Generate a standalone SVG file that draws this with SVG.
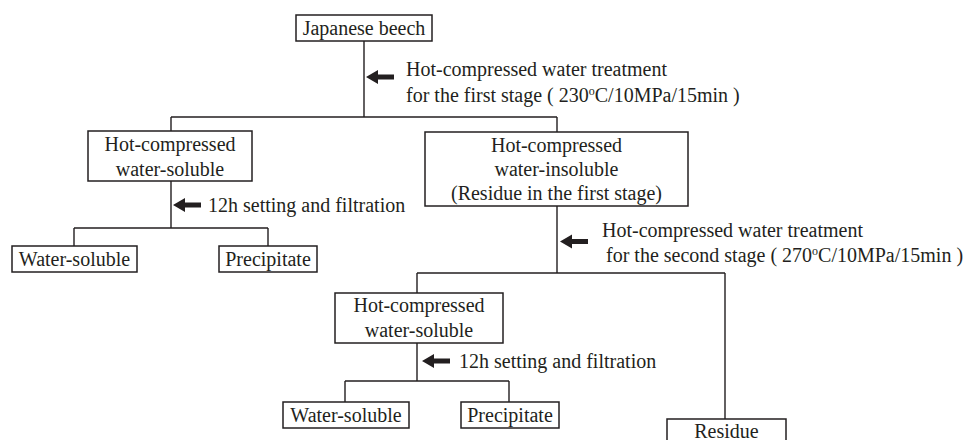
<svg xmlns="http://www.w3.org/2000/svg" xmlns:xlink="http://www.w3.org/1999/xlink" width="974" height="440" viewBox="0 0 974 440">
<style>
  .box { fill: #fff; stroke: #231f20; stroke-width: 1.5; }
  .ln { fill: none; stroke: #231f20; stroke-width: 1.4; }
  .t { font-family: "Liberation Serif", "Times New Roman", serif; font-size: 20px; fill: #231f20; }
  .c { text-anchor: middle; }
  .sup { font-size: 12px; }
</style>
<defs>
  <path id="arr" d="M0,0 L12,-7 L12,-2.6 L28,-2.6 L28,2.6 L12,2.6 L12,7 Z" fill="#231f20"/>
</defs>
<rect width="974" height="440" fill="#fff"/>
<g id="connectors">
  <path class="ln" d="M364,41 V117 M171,117 H557 M171,117 V131 M557,117 V132"/>
  <path class="ln" d="M171,181 V228 M74,228 H268 M74,228 V246 M268,228 V246"/>
  <path class="ln" d="M557,206 V273 M417,273 H725 M417,273 V293 M725,273 V419"/>
  <path class="ln" d="M417,343 V381 M345,381 H509 M345,381 V402 M509,381 V402"/>
  <use xlink:href="#arr" transform="translate(366,77)"/>
  <use xlink:href="#arr" transform="translate(173,205)"/>
  <use xlink:href="#arr" transform="translate(560,241.5)"/>
  <use xlink:href="#arr" transform="translate(422,361)"/>
</g>
<g id="labels">
  <text class="t" x="406" y="76">Hot-compressed water treatment</text>
  <text class="t" x="406" y="102">for the first stage ( 230<tspan class="sup" dy="-7">o</tspan><tspan dy="7">C/10MPa/15min )</tspan></text>
  <text class="t" x="208" y="212">12h setting and filtration</text>
  <text class="t" x="602" y="237">Hot-compressed water treatment</text>
  <text class="t" x="606" y="262">for the second stage ( 270<tspan class="sup" dy="-7">o</tspan><tspan dy="7">C/10MPa/15min )</tspan></text>
  <text class="t" x="459" y="368">12h setting and filtration</text>
</g>
<g id="japanese-beech">
  <rect class="box" x="296" y="15" width="136" height="26"/>
  <text class="t c" x="364" y="35">Japanese beech</text>
</g>
<g id="hc-soluble-1">
  <rect class="box" x="88" y="131" width="164" height="50"/>
  <text class="t c" x="170" y="151">Hot-compressed</text>
  <text class="t c" x="170" y="176">water-soluble</text>
</g>
<g id="hc-insoluble">
  <rect class="box" x="425" y="132" width="263" height="74"/>
  <text class="t c" x="556.5" y="152">Hot-compressed</text>
  <text class="t c" x="556.5" y="176">water-insoluble</text>
  <text class="t c" x="556.5" y="200">(Residue in the first stage)</text>
</g>
<g id="water-soluble-1">
  <rect class="box" x="12" y="246" width="125" height="26"/>
  <text class="t c" x="74.5" y="266">Water-soluble</text>
</g>
<g id="precipitate-1">
  <rect class="box" x="219" y="246" width="98" height="26"/>
  <text class="t c" x="268" y="266">Precipitate</text>
</g>
<g id="hc-soluble-2">
  <rect class="box" x="335" y="293" width="168" height="50"/>
  <text class="t c" x="419" y="312">Hot-compressed</text>
  <text class="t c" x="419" y="337">water-soluble</text>
</g>
<g id="water-soluble-2">
  <rect class="box" x="283" y="402" width="126" height="26"/>
  <text class="t c" x="346" y="422">Water-soluble</text>
</g>
<g id="precipitate-2">
  <rect class="box" x="461" y="402" width="98" height="26"/>
  <text class="t c" x="510" y="422">Precipitate</text>
</g>
<g id="residue">
  <rect class="box" x="667" y="419" width="119" height="26"/>
  <text class="t c" x="726.5" y="438">Residue</text>
</g>
</svg>
